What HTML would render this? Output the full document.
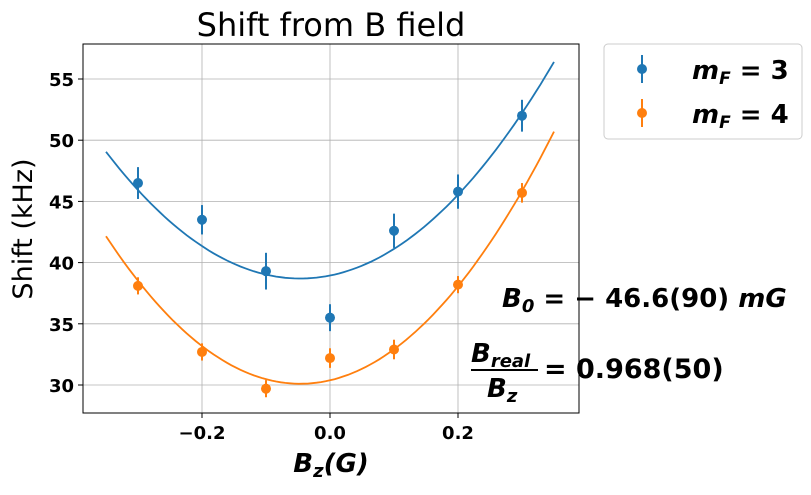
<!DOCTYPE html>
<html><head><meta charset="utf-8"><style>
body{margin:0;background:#fff;}
svg{font-family:"DejaVu Sans","Liberation Sans",sans-serif;}
</style></head><body>
<svg id="chart" width="811" height="490" viewBox="0 0 811 490" xmlns="http://www.w3.org/2000/svg">
<g id="grid"></g>
<g id="fits"></g>
<g id="points"></g>
<rect x="83" y="44" width="496" height="369" fill="none" stroke="#000" stroke-width="1"/>
<g id="ticks"></g>
<text x="331" y="36" font-size="32" text-anchor="middle">Shift from B field</text>
<text x="331" y="472" font-size="26" font-weight="bold" font-style="italic" text-anchor="middle">B<tspan font-size="18" dy="5">z</tspan><tspan dy="-5">(G)</tspan></text>
<text transform="translate(32,229) rotate(-90)" font-size="27" text-anchor="middle">Shift (kHz)</text>
<text x="502" y="307" font-size="26" font-weight="bold"><tspan font-style="italic">B</tspan><tspan font-size="18" dy="5" font-style="italic">0</tspan><tspan dy="-5"> = − 46.6(90) </tspan><tspan font-style="italic">mG</tspan></text>
<g font-weight="bold">
<text x="471" y="362" font-size="26" font-style="italic">B<tspan font-size="18" dy="5">real</tspan></text>
<line x1="471" y1="370" x2="538" y2="370" stroke="#000" stroke-width="2"/>
<text x="487" y="397" font-size="26" font-style="italic">B<tspan font-size="18" dy="5">z</tspan></text>
<text x="544" y="378" font-size="27">= 0.968(50)</text>
</g>
<g>
<rect x="604" y="44" width="198" height="95" rx="4" fill="#fff" stroke="#ccc"/>
<g>
<line x1="642" y1="55" x2="642" y2="83" stroke="#1f77b4" stroke-width="2"/><circle cx="642" cy="69" r="5" fill="#1f77b4"/>
<text x="692" y="79" font-size="26" font-weight="bold" font-style="italic">m<tspan font-size="17" dy="5">F</tspan><tspan dy="-5" font-style="normal"> = 3</tspan></text></g>
<g>
<line x1="642" y1="99" x2="642" y2="127" stroke="#ff7f0e" stroke-width="2"/><circle cx="642" cy="113" r="5" fill="#ff7f0e"/>
<text x="692" y="123" font-size="26" font-weight="bold" font-style="italic">m<tspan font-size="17" dy="5">F</tspan><tspan dy="-5" font-style="normal"> = 4</tspan></text></g>
</g>
</svg>
<script>
const xs=[-0.3,-0.2,-0.1,0.0,0.1,0.2,0.3];
const mf3=[46.5,43.5,39.3,35.5,42.6,45.8,52.0];
const mf3Err=[1.3,1.2,1.5,1.1,1.4,1.4,1.3];
const mf4=[38.1,32.7,29.7,32.2,32.9,38.2,45.7];
const mf4Err=[0.7,0.7,0.7,0.8,0.8,0.7,0.8];
const fit3=[112.5,-0.0466,38.7];
const fit4=[131,-0.0466,30.1];
const xTicks=[-0.2,0.0,0.2];
const xTickLabels=["−0.2","0.0","0.2"];
const yTicks=[30,35,40,45,50,55];
const NS="http://www.w3.org/2000/svg";
const X=v=>330+v*640, Y=v=>385-(v-30)*12.24;
function mk(t,a,p){const e=document.createElementNS(NS,t);for(const k in a)e.setAttribute(k,a[k]);document.getElementById(p).appendChild(e);return e;}
xTicks.forEach((t,i)=>{
 const g=mk('line',{x1:X(t),x2:X(t),y1:44,y2:413,stroke:'#b0b0b0','stroke-width':0.8},'grid');
 
 
 const k=mk('line',{x1:X(t),x2:X(t),y1:413,y2:418,stroke:'#000'},'ticks');
 
 
 const l=mk('text',{x:X(t),y:439,'font-size':18,'font-weight':'bold','text-anchor':'middle'},'ticks');
 
 
 l.textContent=xTickLabels[i];
});
yTicks.forEach(t=>{
 const g=mk('line',{x1:83,x2:579,y1:Y(t),y2:Y(t),stroke:'#b0b0b0','stroke-width':0.8},'grid');
 
 
 const k=mk('line',{x1:78,x2:83,y1:Y(t),y2:Y(t),stroke:'#000'},'ticks');
 
 
 const l=mk('text',{x:74,y:Y(t)+7,'font-size':18,'font-weight':'bold','text-anchor':'end'},'ticks');
 
 
 l.textContent=t;
});
function curve(f,c,n){let d='';for(let i=0;i<=100;i++){const x=-0.35+0.7*i/100;const y=f[0]*(x-f[1])**2+f[2];d+=(i?'L':'M')+X(x).toFixed(1)+','+Y(y).toFixed(1);}
 const p=mk('path',{d:d,fill:'none',stroke:c,'stroke-width':1.8},'fits');
 
 }
curve(fit3,'#1f77b4','fit-mf3');curve(fit4,'#ff7f0e','fit-mf4');
function pts(v,e,c,n){xs.forEach((x,i)=>{
 const l=mk('line',{x1:X(x),x2:X(x),y1:Y(v[i]-e[i]),y2:Y(v[i]+e[i]),stroke:c,'stroke-width':2},'points');
 
 
 const p=mk('circle',{cx:X(x),cy:Y(v[i]),r:5,fill:c},'points');
 
 });}
pts(mf3,mf3Err,'#1f77b4','mf3');pts(mf4,mf4Err,'#ff7f0e','mf4');
</script>
</body></html>
